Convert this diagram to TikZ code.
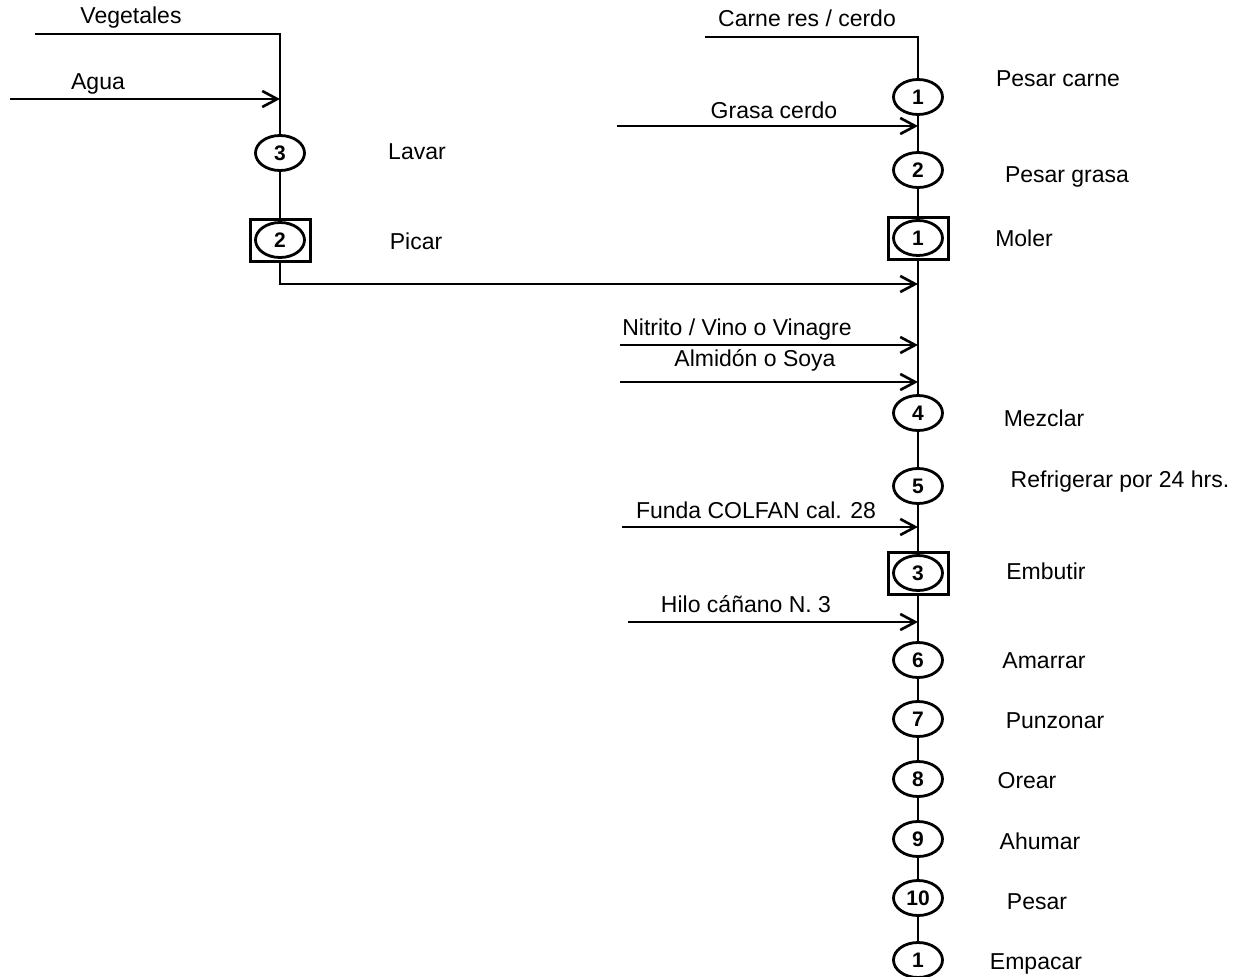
\documentclass[tikz,border=0pt]{standalone}
\usepackage{fontspec}
\setmainfont{Liberation Sans}
\usetikzlibrary{arrows.meta,shapes.geometric}
\begin{document}
\begin{tikzpicture}[x=1pt,y=-1pt,
  line width=2.8pt,
  lbl/.style={font=\fontsize{23}{27}\selectfont, inner sep=0pt},
  op/.style={draw, ellipse, minimum width=49pt, minimum height=35pt, inner sep=0pt,
     line width=2.8pt, font=\fontsize{21}{25}\selectfont\bfseries},
  opbox/.style={draw, rectangle, minimum width=60pt, minimum height=42pt, inner sep=0pt, line width=3pt},
  arr/.style={-{Straight Barb[length=15pt,width=16pt,line width=2.6pt]}}]
\useasboundingbox (0,0) rectangle (1243,977);

% ---------- left column ----------
\coordinate (vegin) at (35,34);
\coordinate (aguain) at (10,99);
\coordinate (jagua) at (280,99);
\node[op] (l3) at (280,153) {3};
\node[opbox] (lb2) at (280,240) {};
\node[op] (l2) at (280,240) {2};

\node[lbl] (tveg) at (131,18) {Vegetales};
\node[lbl] (tagua) at (98,84) {Agua};
\node[lbl] (tlavar) at (417,152) {Lavar};
\node[lbl] (tpicar) at (416,241) {Picar};

\draw (vegin) -| (l3.north);
\draw[arr] (aguain) -- (jagua);
\draw (l3.south) -- (lb2.north);

% ---------- right column ----------
\coordinate (carnein) at (705,37);
\node[op] (r1) at (918,97) {1};
\node[op] (r2) at (918,170) {2};
\node[opbox] (rb1) at (918,238) {};
\node[op] (rm1) at (918,238) {1};
\node[op] (r4) at (918,413) {4};
\node[op] (r5) at (918,486) {5};
\node[opbox] (rb3) at (918,573) {};
\node[op] (rm3) at (918,573) {3};
\node[op] (r6) at (918,660) {6};
\node[op] (r7) at (918,719) {7};
\node[op] (r8) at (918,779) {8};
\node[op] (r9) at (918,839) {9};
\node[op] (r10) at (918,898) {10};
\node[op] (rf1) at (918,960) {1};

\coordinate (jgrasa) at (918,126);
\coordinate (jpicar) at (918,284);
\coordinate (jnit) at (918,345);
\coordinate (jalm) at (918,382);
\coordinate (jfunda) at (918,527);
\coordinate (jhilo) at (918,622);

\coordinate (grasain) at (617,126);
\coordinate (nitin) at (620,345);
\coordinate (almin) at (620,382);
\coordinate (fundain) at (622,527);
\coordinate (hiloin) at (628,622);

\node[lbl] (tcarne) at (807,18) {Carne res / cerdo};
\node[lbl] (tgrasa) at (774,110) {Grasa cerdo};
\node[lbl] (tnit) at (737,330) {Nitrito / Vino o Vinagre};
\node[lbl] (talm) at (755,360) {Almidón o Soya};
\node[lbl] (tfunda) at (756,510) {Funda COLFAN cal. 28};
\node[lbl] (thilo) at (746,604) {Hilo cáñano N. 3};

\node[lbl] (tpc) at (1058,79) {Pesar carne};
\node[lbl] (tpg) at (1067,177) {Pesar grasa};
\node[lbl] (tmol) at (1024,238) {Moler};
\node[lbl] (tmez) at (1044,418) {Mezclar};
\node[lbl] (tref) at (1120,482) {Refrigerar por 24 hrs.};
\node[lbl] (temb) at (1046,571) {Embutir};
\node[lbl] (tama) at (1044,661) {Amarrar};
\node[lbl] (tpun) at (1055,721) {Punzonar};
\node[lbl] (tore) at (1027,781) {Orear};
\node[lbl] (tahu) at (1040,841) {Ahumar};
\node[lbl] (tpes) at (1037,902) {Pesar};
\node[lbl] (temp) at (1036,964) {Empacar};

% vertical chain
\draw (carnein) -| (r1.north);
\draw (r1.south) -- (r2.north);
\draw (r2.south) -- (rb1.north);
\draw (rb1.south) -- (r4.north);
\draw (r4.south) -- (r5.north);
\draw (r5.south) -- (rb3.north);
\draw (rb3.south) -- (r6.north);
\draw (r6.south) -- (r7.north);
\draw (r7.south) -- (r8.north);
\draw (r8.south) -- (r9.north);
\draw (r9.south) -- (r10.north);
\draw (r10.south) -- (rf1.north);

% inputs
\draw[arr] (grasain) -- (jgrasa);
\draw[arr] (lb2.south) |- (jpicar);
\draw[arr] (nitin) -- (jnit);
\draw[arr] (almin) -- (jalm);
\draw[arr] (fundain) -- (jfunda);
\draw[arr] (hiloin) -- (jhilo);
\end{tikzpicture}
\end{document}
